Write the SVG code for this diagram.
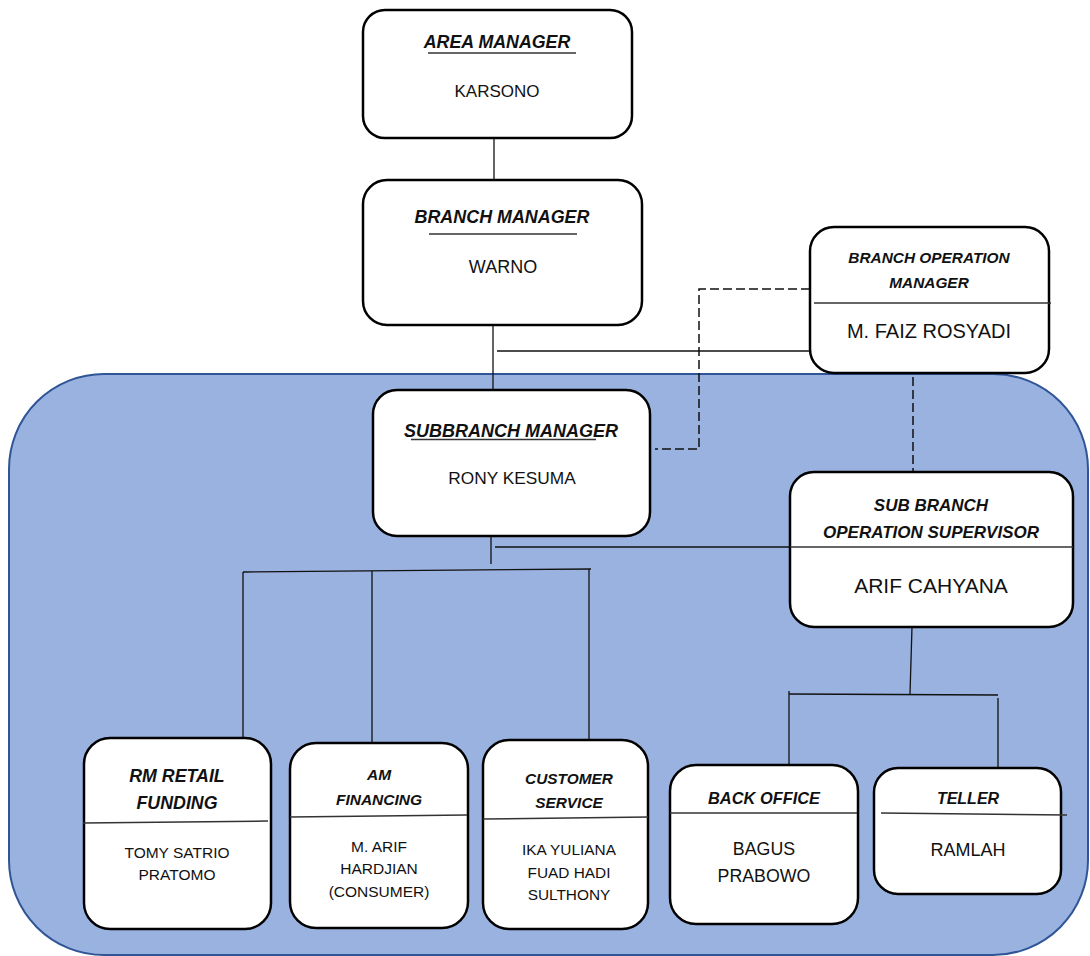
<svg xmlns="http://www.w3.org/2000/svg" width="1090" height="956" viewBox="0 0 1090 956">
<style>
.bg{fill:#9AB2DF;stroke:#2F5597;stroke-width:2}
.box{fill:#fff;stroke:#000;stroke-width:2.5}
.ln{stroke:#111;stroke-width:1.3;fill:none}
.dash{stroke:#111;stroke-width:1.5;fill:none;stroke-dasharray:9 4}
.div{stroke:#333;stroke-width:1.5}
text{font-family:"Liberation Sans",Arial,sans-serif;fill:#111;text-anchor:middle}
.t{font-weight:bold;font-style:italic}
</style>
<rect class="bg" x="9" y="374" width="1079" height="581" rx="95" ry="95"/>
<g id="connectors">
<line class="ln" x1="494" y1="138" x2="494" y2="180"/>
<line class="ln" x1="493" y1="325" x2="493" y2="390"/>
<line class="ln" x1="497" y1="351" x2="818" y2="351"/>
<polyline class="dash" points="810,289 699,289 699,449 655,449"/>
<line class="dash" x1="913" y1="377" x2="913" y2="485"/>
<line class="ln" x1="491" y1="536" x2="491" y2="564"/>
<line class="ln" x1="495" y1="547" x2="790" y2="547"/>
<line class="ln" x1="243" y1="572" x2="591" y2="569"/>
<line class="ln" x1="243" y1="572" x2="243" y2="738"/>
<line class="ln" x1="372" y1="571" x2="372" y2="743"/>
<line class="ln" x1="589" y1="569" x2="589" y2="740"/>
<line class="ln" x1="912" y1="627" x2="910" y2="694"/>
<line class="ln" x1="789" y1="694" x2="998" y2="695"/>
<line class="ln" x1="789" y1="691" x2="789" y2="765"/>
<line class="ln" x1="998" y1="698" x2="998" y2="774"/>
</g>
<g id="area-manager">
<rect class="box" x="363" y="10" width="269" height="128" rx="22"/>
<text class="t" x="497" y="48.4" font-size="17.8">AREA MANAGER</text>
<line class="div" x1="428" y1="53" x2="576" y2="53"/>
<text x="497" y="97" font-size="17">KARSONO</text>
</g>
<g id="branch-manager">
<rect class="box" x="363" y="180" width="279" height="145" rx="24"/>
<text class="t" x="502" y="223.4" font-size="17.9">BRANCH MANAGER</text>
<line class="div" x1="429" y1="234" x2="577" y2="234"/>
<text x="503" y="273.4" font-size="18">WARNO</text>
</g>
<g id="branch-operation-manager">
<rect class="box" x="810" y="227" width="239" height="146" rx="24"/>
<text class="t" x="929" y="262.5" font-size="15.4">BRANCH OPERATION</text>
<text class="t" x="929" y="287.5" font-size="15.4">MANAGER</text>
<line class="div" x1="814" y1="303" x2="1051" y2="303"/>
<text x="929" y="338" font-size="20">M. FAIZ ROSYADI</text>
</g>
<g id="subbranch-manager">
<rect class="box" x="373" y="390" width="277" height="146" rx="24"/>
<text class="t" x="511" y="437" font-size="18">SUBBRANCH MANAGER</text>
<line class="div" x1="411" y1="439.5" x2="596" y2="439.5"/>
<text x="512" y="484" font-size="17.3">RONY KESUMA</text>
</g>
<g id="sub-branch-operation-supervisor">
<rect class="box" x="790" y="472" width="283" height="155" rx="24"/>
<text class="t" x="931" y="511" font-size="17">SUB BRANCH</text>
<text class="t" x="931" y="538" font-size="17">OPERATION SUPERVISOR</text>
<line class="div" x1="790" y1="547" x2="1073" y2="547"/>
<text x="931" y="592.5" font-size="21">ARIF CAHYANA</text>
</g>
<g id="rm-retail-funding">
<rect class="box" x="84" y="738" width="187" height="191" rx="26"/>
<text class="t" x="177" y="782.4" font-size="17.8">RM RETAIL</text>
<text class="t" x="177" y="809.4" font-size="17.8">FUNDING</text>
<line class="div" x1="83" y1="823" x2="268" y2="821"/>
<text x="177" y="857.5" font-size="15.5">TOMY SATRIO</text>
<text x="177" y="879.5" font-size="15.5">PRATOMO</text>
</g>
<g id="am-financing">
<rect class="box" x="290" y="743" width="178" height="185" rx="26"/>
<text class="t" x="379" y="779.5" font-size="15.5">AM</text>
<text class="t" x="379" y="804.5" font-size="15.5">FINANCING</text>
<line class="div" x1="290" y1="817" x2="467" y2="815"/>
<text x="379" y="851.5" font-size="15.5">M. ARIF</text>
<text x="379" y="873.5" font-size="15.5">HARDJIAN</text>
<text x="379" y="896.5" font-size="15.5">(CONSUMER)</text>
</g>
<g id="customer-service">
<rect class="box" x="483" y="740" width="165" height="189" rx="26"/>
<text class="t" x="569" y="783.5" font-size="15.4">CUSTOMER</text>
<text class="t" x="569" y="807.5" font-size="15.4">SERVICE</text>
<line class="div" x1="483" y1="819" x2="648" y2="817"/>
<text x="569" y="854.5" font-size="15.4">IKA YULIANA</text>
<text x="569" y="877.5" font-size="15.4">FUAD HADI</text>
<text x="569" y="899.5" font-size="15.4">SULTHONY</text>
</g>
<g id="back-office">
<rect class="box" x="670" y="765" width="188" height="159" rx="26"/>
<text class="t" x="764" y="804" font-size="16.4">BACK OFFICE</text>
<line class="div" x1="670" y1="813" x2="857" y2="813"/>
<text x="764" y="855.4" font-size="17.8">BAGUS</text>
<text x="764" y="882.4" font-size="17.8">PRABOWO</text>
</g>
<g id="teller">
<rect class="box" x="874" y="768" width="187" height="126" rx="24"/>
<text class="t" x="968" y="804" font-size="16">TELLER</text>
<line class="div" x1="881" y1="813" x2="1067" y2="815"/>
<text x="968" y="855.5" font-size="18">RAMLAH</text>
</g>
</svg>
